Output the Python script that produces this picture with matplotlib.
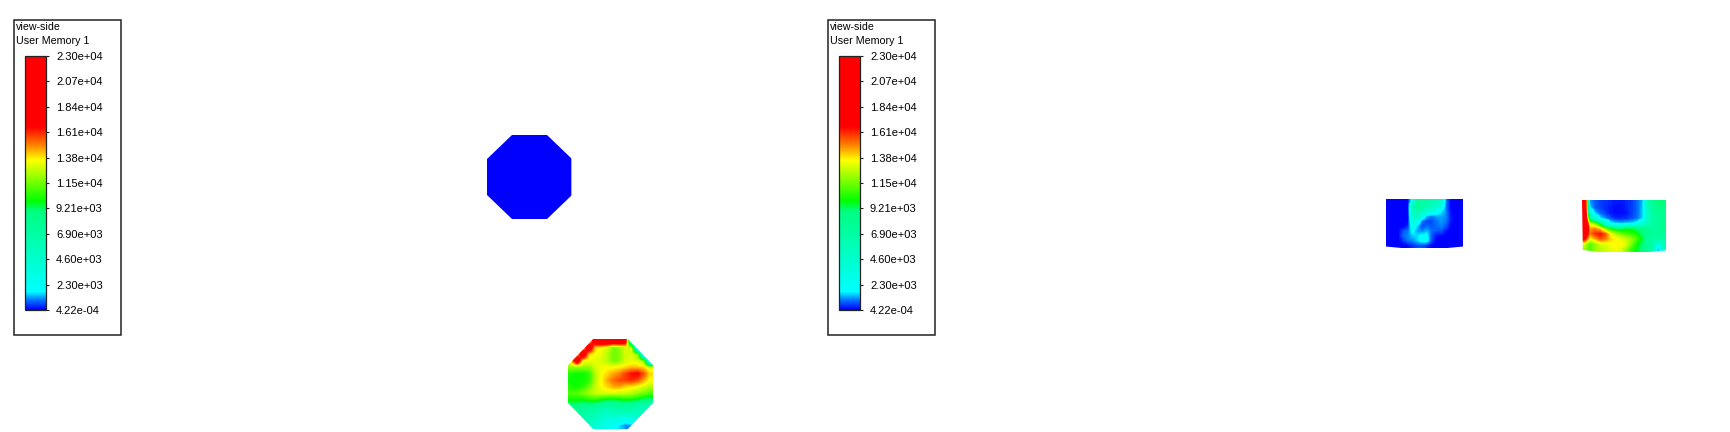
import numpy as np
import matplotlib
matplotlib.use('Agg')
import matplotlib.pyplot as plt
from matplotlib.cm import ScalarMappable
from matplotlib.colors import LinearSegmentedColormap, Normalize
from matplotlib.patches import Polygon, Rectangle

plt.rcParams['font.family'] = ['Liberation Sans', 'DejaVu Sans']

W, H = 1730, 432

# legend
legend_title = 'view-side'
legend_name = 'User Memory 1'
tick_values = [0.000422, 2300, 4600, 6900, 9210, 11500, 13800, 16100, 18400, 20700, 23000]
tick_labels = ['4.22e-04', '2.30e+03', '4.60e+03', '6.90e+03', '9.21e+03', '1.15e+04',
               '1.38e+04', '1.61e+04', '1.84e+04', '2.07e+04', '2.30e+04']

# field values in thousands
octagon_a = [[0, 0], [0, 0.6], [0, 2.5], [0, 4.5], [0, 5.5], [0, 5.5], [0, 4.5], [0, 2.5], [0, 0.6], [0, 0]]
octagon_b = [
    [14, 14, 14, 14, 18.5, 19.5, 19.5, 19.5, 19.5, 18, 3, 2, 2, 2],
    [14, 14, 14, 19, 14, 13.5, 13, 11.5, 12, 13, 13, 0.5, 2, 2],
    [14, 14, 19, 14, 13.5, 13.2, 12.5, 11.5, 11.8, 13, 13, 12, 0.5, 2],
    [14, 19, 13.6, 13.4, 13.2, 13, 12.5, 11.5, 12, 13, 13.2, 13, 12, 0.5],
    [12, 12, 12, 12, 13, 13.3, 13.5, 13.5, 13.7, 14, 14.3, 14.2, 14, 13],
    [10.2, 10, 10, 10.5, 12.5, 13.5, 14, 14.5, 15, 15.8, 16.5, 16.8, 15.5, 14],
    [10, 10, 10, 10.5, 12.5, 13.6, 14.5, 15.2, 15.6, 15.8, 16, 15.5, 14.5, 13.5],
    [10.3, 10, 10.5, 11.5, 12.8, 13.5, 14, 14.5, 14.5, 14, 13.8, 13.5, 13, 12.5],
    [11, 11.2, 11.8, 12.3, 12.8, 13, 13, 13, 12.8, 12.8, 12.5, 12, 11.5, 11],
    [10, 10, 10, 10.3, 10.6, 10, 9.6, 9.6, 9.8, 10, 10, 9.6, 9, 8.8],
    [8.5, 8.5, 8, 8, 7.8, 7, 6.5, 7, 7.5, 7.5, 7, 6.5, 6, 6],
    [7.5, 7.3, 7, 6.5, 6, 5.5, 5, 5.5, 5.5, 5.5, 5.5, 5.5, 5.5, 5.5],
    [6.5, 6.5, 6, 5.5, 5.5, 4.5, 3.5, 3.5, 3, 2.5, 3, 4, 4.5, 5],
    [5.5, 5.5, 5, 4.5, 4, 3.5, 2.5, 2, 1.5, 1, 1.1, 2.5, 3.5, 4.5],
]
rect_c = [
    [0, 0, 0, 0, 0, 2.5, 7.5, 7, 6.5, 6, 5.5, 4.5, 1, 0, 0, 0],
    [0, 0, 0, 0, 0, 5.5, 7.5, 7, 6, 5.5, 4.5, 3, 0.9, 0, 0, 0],
    [0, 0, 0, 0, 0, 5, 6.5, 5.5, 4, 3, 2.2, 1.6, 1, 0.1, 0, 0],
    [0, 0, 0, 0, 0, 4, 5.5, 3, 1.3, 1, 1.2, 1.2, 1, 0.2, 0, 0],
    [0, 0, 0, 0, 0, 3.5, 3, 1, 0.5, 0.6, 0.9, 1.1, 0.9, 0.2, 0, 0],
    [0, 0, 0, 0, 0.3, 2.5, 1.4, 0.6, 0.8, 0.7, 0.8, 1, 0.7, 0, 0, 0],
    [0, 0, 0, 0.6, 0.9, 1.8, 1.2, 1, 1.3, 0.8, 0.7, 0.7, 0.2, 0, 0, 0],
    [0, 0, 0, 0.8, 1, 1.4, 1.5, 1.8, 1.8, 0.7, 0.2, 0.1, 0, 0, 0, 0],
    [0, 0, 0, 0.4, 0.9, 1, 1.4, 1.9, 2, 0.6, 0, 0, 0, 0, 0, 0],
    [0, 0, 0, 0, 0.1, 0.4, 0.6, 0.7, 0.4, 0, 0, 0, 0, 0, 0, 0],
]
rect_d = [
    [23, 1.2, 0.7, 0.5, 0.4, 0.3, 0.2, 0.2, 0.3, 0.5, 0.8, 1.3, 6, 8, 9, 9],
    [23, 1.6, 0.7, 0.5, 0.3, 0.2, 0.1, 0.1, 0.3, 0.5, 0.8, 1.4, 5.5, 7.5, 8.5, 8.5],
    [23, 4, 1.4, 0.8, 0.5, 0.2, 0.1, 0.1, 0.2, 0.5, 0.8, 1.4, 5, 7, 8, 8],
    [23, 8, 3, 1.6, 1, 0.6, 0.3, 0.3, 0.4, 0.6, 0.9, 1.4, 5, 7, 7.5, 8],
    [23, 13, 12, 9, 4, 1.8, 1.5, 1.4, 1.5, 1.6, 1.8, 4, 5.5, 7, 7.5, 8],
    [23, 14.5, 15, 14, 12, 10, 9, 9, 9.5, 9.5, 9, 8.5, 8, 7.5, 7.5, 8],
    [20, 15, 16, 16.5, 15.5, 13.5, 12.5, 11.5, 11, 10.5, 10, 9, 8, 7.5, 7.5, 7.5],
    [17, 13.5, 14.5, 15.5, 15, 14, 13.6, 13.2, 12.8, 12, 11, 9.5, 7.5, 7, 7, 7],
    [13, 11, 12, 13, 13.2, 13.5, 13.6, 13.6, 13, 11.5, 10, 9, 7.5, 6.5, 3, 5.5],
    [12, 11, 12, 12.5, 12.8, 13.2, 13.4, 13, 12, 10.5, 9.8, 8.5, 8, 6, 1, 5],
]

octagon_shape = [(0.295, 0), (0.705, 0), (1, 0.29), (1, 0.71), (0.705, 1), (0.295, 1), (0, 0.71), (0, 0.29)]
rect_c_shape = [(0, 0), (1, 0), (1, 0.97), (0.8, 1), (0.2, 1), (0, 0.97)]
rect_d_shape = [(0, 0), (1, 0), (1, 0.97), (0.8, 1), (0.2, 1), (0.01, 0.96)]

cmap = LinearSegmentedColormap.from_list('fluent', [
    (0.0, (0, 0, 1)), (0.04, (0, 0.5, 1)), (0.07, (0, 1, 1)), (0.39, (0, 1, 0.5)),
    (0.43, (0, 1, 0)), (0.59, (1, 1, 0)), (0.65, (1, 0.5, 0)), (0.72, (1, 0, 0)), (1.0, (1, 0, 0))])
norm = Normalize(0, 23000)

fig = plt.figure(figsize=(W / 100, H / 100), dpi=100, facecolor='white')


def px_axes(x0, y0, x1, y1):
    return fig.add_axes([x0 / W, 1 - y1 / H, (x1 - x0) / W, (y1 - y0) / H])


def field(box, values, shape, interp='bilinear'):
    ax = px_axes(*box)
    ax.axis('off')
    im = ax.imshow(np.array(values) * 1000, cmap=cmap, norm=norm, extent=[0, 1, 1, 0], aspect='auto',
                   interpolation=interp, interpolation_stage='data')
    im.set_clip_path(Polygon(shape, closed=True, transform=ax.transData))
    return ax


def legend(x):
    overlay = fig.add_axes([0, 0, 1, 1], facecolor='none', zorder=3)
    overlay.set_xlim(0, W)
    overlay.set_ylim(H, 0)
    overlay.axis('off')
    overlay.add_patch(Rectangle((x, 19.5), 107, 315.5, fill=False, edgecolor='#222222', lw=1.1))
    overlay.text(x + 2.5, 27, legend_title, fontsize=7.7, va='center', ha='left')
    overlay.text(x + 2.5, 40.5, legend_name, fontsize=7.7, va='center', ha='left')
    cax = px_axes(x + 11.5, 56, x + 32.5, 310)
    cax.set_zorder(4)
    cb = fig.colorbar(ScalarMappable(norm=norm, cmap=cmap), cax=cax)
    cb.set_ticks(tick_values, labels=tick_labels)
    cb.ax.tick_params(length=2.2, width=0.8, pad=5, labelsize=8, color='#222222', labelcolor='black')
    cb.outline.set_edgecolor('#222222')
    cb.outline.set_linewidth(0.9)


# octagon with the thin edge column
ax_a = px_axes(487, 135, 572, 219)
ax_a.axis('off')
mesh = ax_a.pcolormesh([0, 0.985, 1], np.linspace(0, 1, len(octagon_a) + 1),
                       np.array(octagon_a) * 1000, cmap=cmap, norm=norm, shading='flat')
ax_a.set_xlim(0, 1)
ax_a.set_ylim(1, 0)
mesh.set_clip_path(Polygon(octagon_shape, closed=True, transform=ax_a.transData))

field((568, 339, 653, 429), octagon_b, octagon_shape)
field((1386, 199, 1463, 248), rect_c, rect_c_shape)
field((1582, 200, 1666, 252), rect_d, rect_d_shape)

legend(13.5)
legend(827.5)

fig.savefig('out.png', dpi=100)
